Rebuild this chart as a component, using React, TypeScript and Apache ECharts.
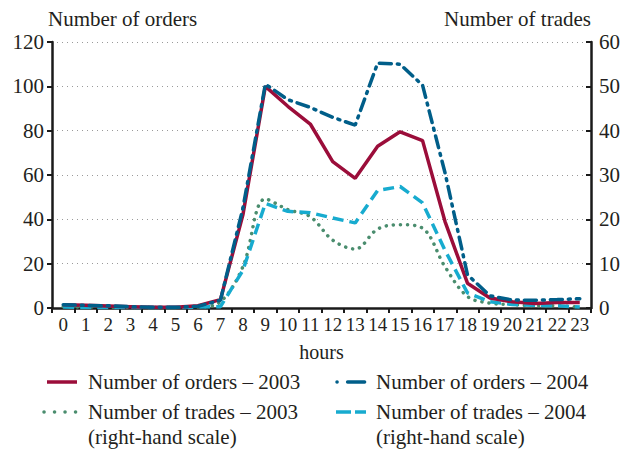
import React, { useEffect, useRef } from "react";
import * as echarts from "echarts";

const hours = ["0","1","2","3","4","5","6","7","8","9","10","11","12","13","14","15","16","17","18","19","20","21","22","23"];
const orders2003 = [1.5, 1.2, 0.9, 0.6, 0.3, 0.3, 1, 3.8, 42, 100, 91, 83, 66, 58.5, 73, 79.5, 75.5, 39, 11.2, 4.5, 2.8, 2, 2.5, 2.5];
const orders2004 = [1.5, 1.2, 1, 0.6, 0.3, 0.3, 0.8, 3.5, 45, 101, 94, 90.5, 86, 82.5, 110.5, 110, 100.5, 61, 15, 5.5, 3.6, 3.5, 3.8, 4.2];
const trades2003 = [0.3, 0.2, 0.2, 0.1, 0.1, 0.1, 0.2, 1.4, 9.3, 24.6, 22.2, 20.6, 15.3, 13.3, 17.8, 18.8, 18, 9.3, 2.6, 1.1, 0.8, 0.5, 0.5, 0.2];
const trades2004 = [0.2, 0.1, 0.1, 0.1, 0.1, 0.1, 0.2, 0.3, 8.5, 23.6, 21.8, 21.5, 20.3, 19.2, 26.5, 27.4, 23.7, 13, 3.4, 1.4, 0.8, 0.6, 0.5, 0.2];

const leftTicks = { min: 0, max: 120, interval: 20 };
const rightTicks = { min: 0, max: 60, interval: 10 };

const N_O3 = "Number of orders – 2003";
const N_O4 = "Number of orders – 2004";
const N_T3 = "Number of trades – 2003";
const N_T4 = "Number of trades – 2004";
const RHS = "(right-hand scale)";

const FONT = "Liberation Serif";
const TXT = "#231f20";
const C_RED = "#9b0d3a";
const C_BLUE = "#005e89";
const C_GREEN = "#4a8d6e";
const C_CYAN = "#17abcf";

const S_RED = { color: C_RED, width: 3.5, type: "solid" as any, cap: "butt" };
const S_BLUE = { color: C_BLUE, width: 3.5, type: [12, 6, 2, 6], cap: "round" };
const S_GREEN = { color: C_GREEN, width: 3.5, type: [0.1, 7], cap: "round" };
const S_CYAN = { color: C_CYAN, width: 3.5, type: [11, 6], cap: "butt" };

function legendIcon(x1: number, x2: number, y: number, s: any) {
  return {
    type: "line",
    shape: { x1, y1: y, x2, y2: y },
    style: { stroke: s.color, lineWidth: s.width, lineDash: Array.isArray(s.type) ? s.type : null, lineCap: s.cap },
  };
}
function legendText(x: number, y: number, text: string) {
  return { type: "text", x, y, style: { text, fontFamily: FONT, fontSize: 21, fill: TXT, verticalAlign: "middle" } };
}

export default function App() {
  const ref = useRef<HTMLDivElement>(null);
  useEffect(() => {
    if (!ref.current) return;
    const chart = echarts.init(ref.current, null, { renderer: "svg" });
    chart.setOption({
      animation: false,
      textStyle: { fontFamily: FONT, color: TXT },
      grid: { left: 52, right: 30, top: 42, bottom: 142, containLabel: false },
      graphic: [
        legendIcon(47, 77, 382, S_RED),
        legendText(88, 382, N_O3),
        legendIcon(337, 366, 382, { ...S_BLUE, type: [0.1, 10.5, 17, 100] }),
        legendText(376, 382, N_O4),
        legendIcon(44, 77, 412, { ...S_GREEN, type: [0.1, 10.4] }),
        legendText(88, 412, N_T3),
        legendIcon(336, 366, 412, { ...S_CYAN, type: [15, 4, 11, 100] }),
        legendText(376, 412, N_T4),
        legendText(88, 437, RHS),
        legendText(376, 437, RHS),
      ],
      xAxis: {
        type: "category",
        data: hours,
        boundaryGap: true,
        name: "hours",
        nameLocation: "middle",
        nameGap: 34,
        nameTextStyle: { fontFamily: FONT, fontSize: 20, color: TXT },
        axisLine: { lineStyle: { color: "#1a1a1a", width: 2.5 } },
        axisTick: { show: true, length: 5, lineStyle: { color: "#1a1a1a", width: 2 } },
        axisLabel: { fontFamily: FONT, fontSize: 19, color: TXT, margin: 7, interval: 0 },
      },
      yAxis: [
        {
          type: "value", position: "left", ...leftTicks,
          name: "Number of orders", nameLocation: "end", nameGap: 13,
          nameTextStyle: { fontFamily: FONT, fontSize: 21, color: TXT, align: "left", padding: [0, 0, 0, -4] },
          axisLine: { show: true, lineStyle: { color: "#1a1a1a", width: 2.5 } },
          axisTick: { show: true, length: 5, lineStyle: { color: "#1a1a1a", width: 2 } },
          axisLabel: { fontFamily: FONT, fontSize: 21, color: TXT, margin: 8 },
          splitLine: { show: true, lineStyle: { color: "#9a9a9a", type: [1, 4], width: 1.2 } },
        },
        {
          type: "value", position: "right", ...rightTicks,
          name: "Number of trades", nameLocation: "end", nameGap: 13,
          nameTextStyle: { fontFamily: FONT, fontSize: 21, color: TXT, align: "right", padding: [0, 0, 0, 0] },
          axisLine: { show: true, lineStyle: { color: "#1a1a1a", width: 2.5 } },
          axisTick: { show: true, inside: true, length: 5, lineStyle: { color: "#1a1a1a", width: 2 } },
          axisLabel: { fontFamily: FONT, fontSize: 21, color: TXT, margin: 8 },
          splitLine: { show: false },
        },
      ],
      series: [
        {
          name: N_T3, type: "line", yAxisIndex: 1, data: trades2003, showSymbol: false, symbol: "none",
          smooth: 0.35, lineStyle: S_GREEN, itemStyle: { color: C_GREEN },
        },
        {
          name: N_T4, type: "line", yAxisIndex: 1, data: trades2004, showSymbol: false, symbol: "none",
          lineStyle: S_CYAN, itemStyle: { color: C_CYAN },
        },
        {
          name: N_O3, type: "line", yAxisIndex: 0, data: orders2003, showSymbol: false, symbol: "none",
          lineStyle: S_RED, itemStyle: { color: C_RED },
        },
        {
          name: N_O4, type: "line", yAxisIndex: 0, data: orders2004, showSymbol: false, symbol: "none",
          lineStyle: S_BLUE, itemStyle: { color: C_BLUE },
        },
      ],
    });
    return () => chart.dispose();
  }, []);
  return <div ref={ref} style={{ width: 623, height: 450, position: "absolute", left: 0, top: 0 }} />;
}
